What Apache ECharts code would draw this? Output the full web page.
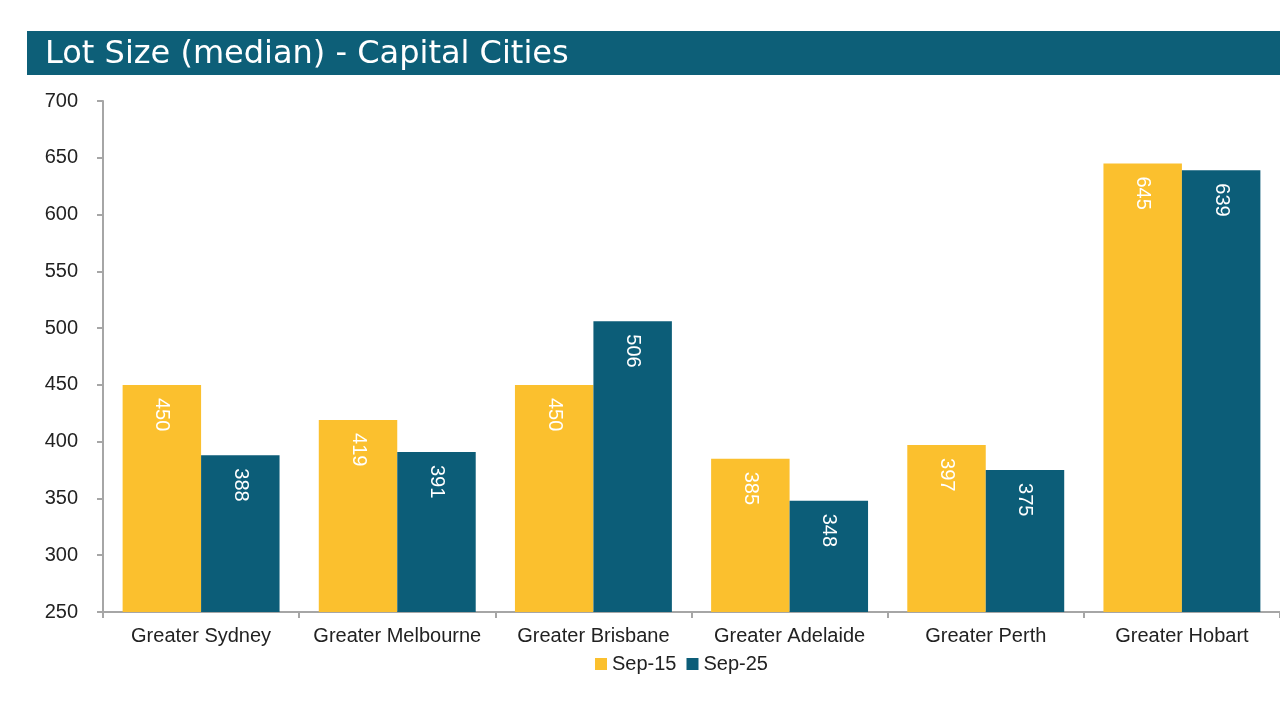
<!DOCTYPE html>
<html>
<head>
<meta charset="utf-8">
<style>
  html, body { margin: 0; padding: 0; background: #fff; }
  #chart { width: 1280px; height: 720px; }
</style>
<script src="https://cdn.jsdelivr.net/npm/echarts@6/dist/echarts.min.js"></script>
</head>
<body>
<div id="chart"></div>
<script>
const cities = ['Greater Sydney', 'Greater Melbourne', 'Greater Brisbane', 'Greater Adelaide', 'Greater Perth', 'Greater Hobart'];
const sep15 = [450, 419, 450, 385, 397, 645];
const sep25 = [388, 391, 506, 348, 375, 639];
const seriesNames = ['Sep-15', 'Sep-25'];

document.addEventListener('DOMContentLoaded', function(){
  var chart = echarts.init(document.getElementById('chart'));
  const axisFont = '"Liberation Sans", Arial, sans-serif';

  // shared label style, rotated to read top-down inside the bar
  const barLabel = {
    show: true,
    position: 'insideTop',
    rotate: -90,
    distance: 13,
    align: 'left',
    verticalAlign: 'middle',
    color: '#fff',
    fontSize: 20,
    fontFamily: axisFont
  };

  chart.setOption({
    animation: false,
    backgroundColor: '#fff',
    graphic: [
      { type: 'rect', shape: { x: 27, y: 31, width: 1260, height: 44 }, style: { fill: '#0d5f78' } },
      { type: 'text', x: 45, y: 55, style: {
          text: 'Lot Size (median) - Capital Cities', fill: '#fff',
          font: '32px "DejaVu Sans", sans-serif', verticalAlign: 'middle'
      } }
    ],
    grid: { left: 103, right: -2, top: 101, bottom: 108 },
    legend: {
      bottom: 41,
      left: 590,
      itemWidth: 12,
      itemHeight: 12,
      itemGap: 10,
      icon: 'rect',
      textStyle: { color: '#222', fontSize: 20, fontFamily: axisFont },
      data: seriesNames
    },
    xAxis: {
      type: 'category',
      data: cities,
      axisLine: { lineStyle: { color: '#a6a6a6', width: 2 } },
      axisTick: { show: true, interval: 0, length: 6, lineStyle: { color: '#a6a6a6', width: 2 } },
      axisLabel: { interval: 0, color: '#222', fontSize: 20, margin: 14, fontFamily: axisFont }
    },
    yAxis: {
      type: 'value',
      min: 250,
      max: 700,
      interval: 50,
      axisLine: { show: true, lineStyle: { color: '#a6a6a6', width: 2 } },
      axisTick: { show: true, length: 6, lineStyle: { color: '#a6a6a6', width: 2 } },
      splitLine: { show: false },
      axisLabel: { color: '#222', fontSize: 20, margin: 25, fontFamily: axisFont }
    },
    series: [
      {
        name: seriesNames[0], type: 'bar', data: sep15,
        barGap: '0%', barCategoryGap: '20%',
        itemStyle: { color: '#fbc02e' },
        label: barLabel
      },
      {
        name: seriesNames[1], type: 'bar', data: sep25,
        itemStyle: { color: '#0c5d78' },
        label: barLabel
      }
    ]
  });
});
</script>
</body>
</html>
